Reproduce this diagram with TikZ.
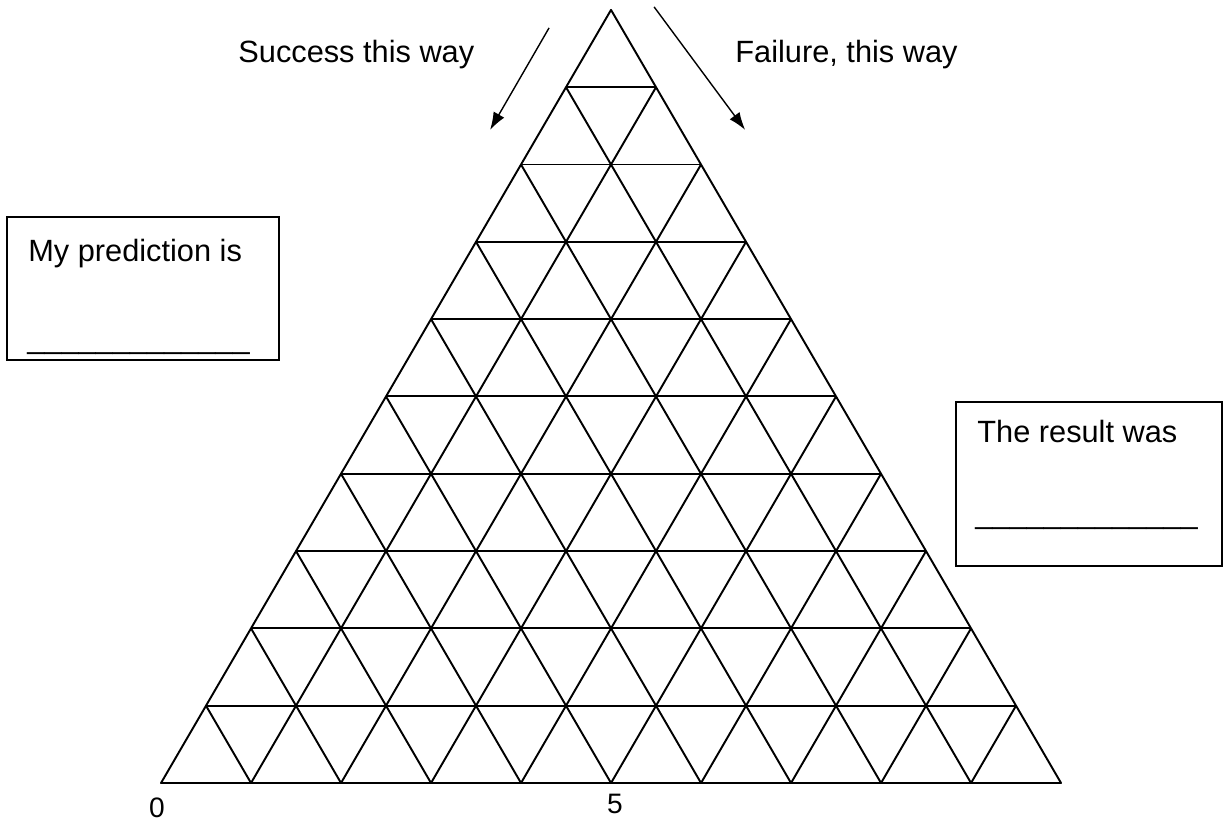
\documentclass[tikz,border=0pt]{standalone}
\usepackage{fontspec}
\setmainfont{Liberation Sans}
\usetikzlibrary{arrows.meta}
\begin{document}
\begin{tikzpicture}[scale=1.8,
    mesh/.style={line width=1.1pt,line join=round},
    box/.style={draw,line width=1.1pt,inner sep=0pt},
    lbl/.style={font=\fontsize{17.5}{21}\selectfont,anchor=base west,inner sep=0pt},
    num/.style={font=\fontsize{16}{19}\selectfont,inner sep=0pt},
    way/.style={line width=0.8pt,-{Latex[length=10pt,width=7pt]}}]
            \def\ax{0.5}
            \def\ay{0.859}
            \def\bx{1}
            \def\by{0}
            \useasboundingbox (-1.789,-0.422) rectangle (11.844,8.7);
            % outer triangle
            \draw[mesh] (0,0)--({10*\bx},0)--({10*\ax},{10*\ay})--cycle;
            \foreach \k in {1,...,9}
            {\draw[mesh] ({\k*\ax},{\k*\ay})--({\k*\ax+(10-\k)*\bx},{\k*\ay});
             \draw[mesh] ({\k*\bx},0)--({\k*\bx+(10-\k)*\ax},{(10-\k)*\ay});
             \draw[mesh] ({\k*\bx},0)--({\k*\ax},{\k*\ay});}
            \node[num] (zero) at (-0.044,-0.278) {0};
            \node[num] (five) at (5.044,-0.233) {5};
            % which way to go
            \node[lbl] (succ) at (0.856,8.0) {Success this way};
            \node[lbl] (fail) at (6.378,8.0) {Failure, this way};
            \coordinate (succfrom) at (4.311,8.389);
            \coordinate (succto) at (3.656,7.256);
            \coordinate (failfrom) at (5.478,8.622);
            \coordinate (failto) at (6.489,7.256);
            \draw[way] (succfrom)--(succto);
            \draw[way] (failfrom)--(failto);
            % boxes
            \node[box,minimum width=5.44cm,minimum height=2.86cm]
                (predbox) at (-0.2,5.494) {};
            \node[lbl] (predtxt) at (-1.478,5.789) {My prediction is};
            \node[lbl] (predline) at (-1.489,4.833)
                {\_\_\_\_\_\_\_\_\_\_\_\_\_};
            \node[box,minimum width=5.32cm,minimum height=3.28cm]
                (resbox) at (10.311,3.322) {};
            \node[lbl] (restxt) at (9.067,3.778) {The result was};
            \node[lbl] (resline) at (9.044,2.878)
                {\_\_\_\_\_\_\_\_\_\_\_\_\_};
\end{tikzpicture}
\end{document}
